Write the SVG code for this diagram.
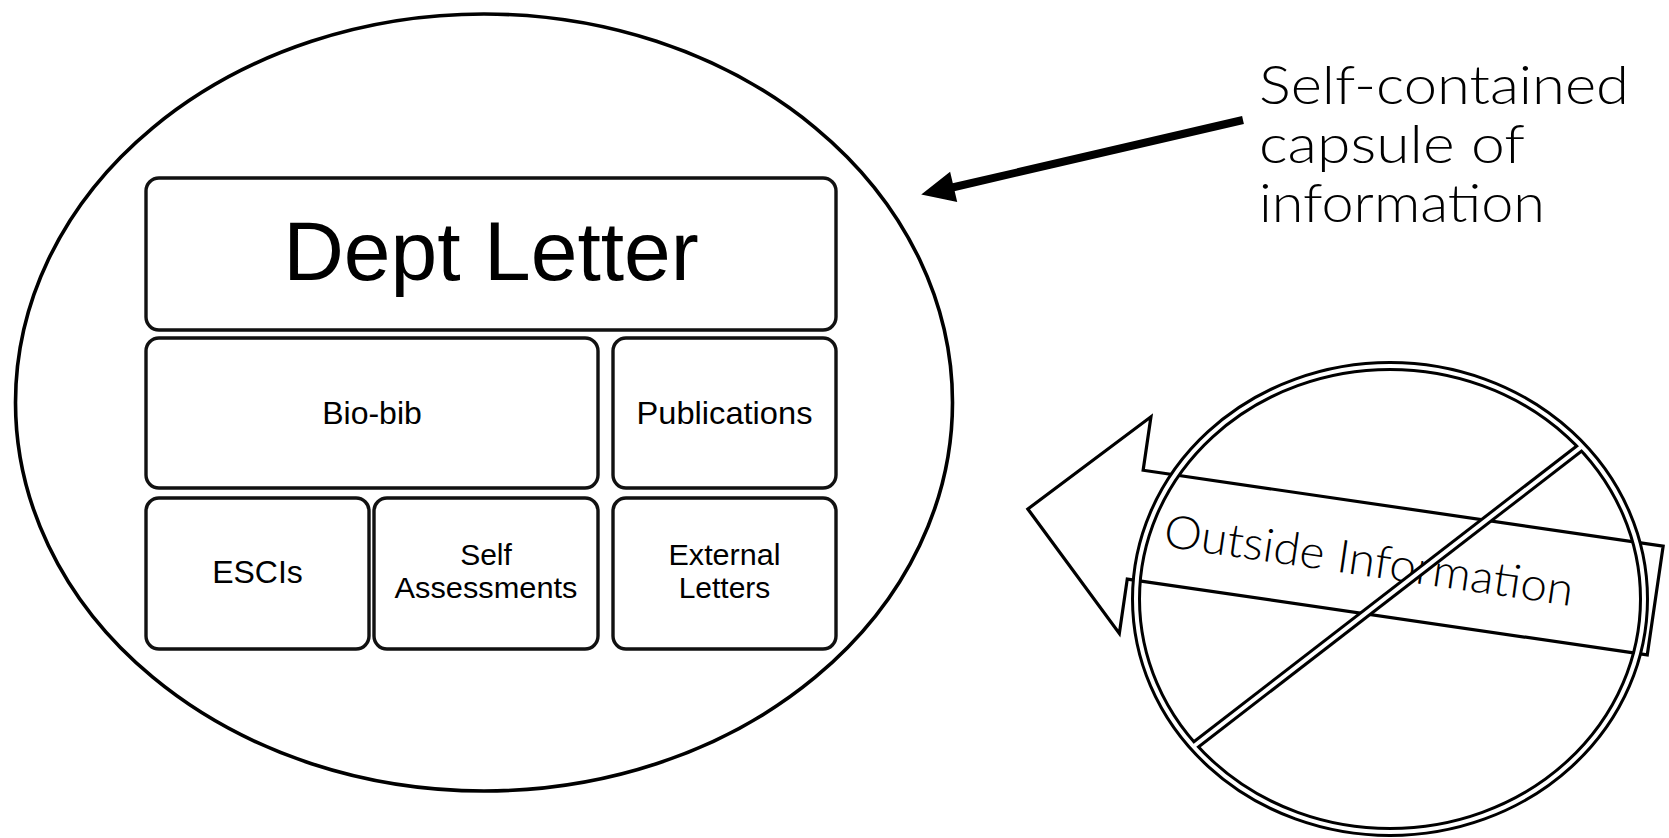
<svg xmlns="http://www.w3.org/2000/svg" width="1669" height="838" viewBox="0 0 1669 838">
<style>
.box{fill:#fff;stroke:#111;stroke-width:3.4}
.lbl{font-family:"Liberation Sans",Arial,sans-serif;font-size:32px;fill:#000;text-anchor:middle}
.sm{font-size:30px}
.big{font-size:84px}
.geo{font-family:Lato,"Noto Sans",sans-serif;font-weight:300;fill:#000}
.ringB{fill:none;stroke:#000;stroke-width:10}
.ringW{fill:none;stroke:#fff;stroke-width:4}
</style>
<defs>
<clipPath id="ringClip"><ellipse cx="1390" cy="599" rx="254" ry="233"/></clipPath>
</defs>
<rect width="1669" height="838" fill="#fff"/>

<g id="capsule">
<ellipse cx="484" cy="402.5" rx="468.5" ry="388.5" fill="none" stroke="#000" stroke-width="3.6"/>
</g>
<g id="dept-letter">
<rect class="box" x="146" y="178" width="690" height="152" rx="13"/>
<text class="lbl big" x="491" y="280">Dept Letter</text>
</g>
<g id="bio-bib">
<rect class="box" x="146" y="338" width="452" height="150" rx="13"/>
<text class="lbl" x="372" y="424">Bio-bib</text>
</g>
<g id="publications">
<rect class="box" x="613" y="338" width="223" height="150" rx="13"/>
<text class="lbl" x="724.5" y="424" textLength="176" lengthAdjust="spacingAndGlyphs">Publications</text>
</g>
<g id="escis">
<rect class="box" x="146" y="498" width="223" height="151" rx="13"/>
<text class="lbl" x="257.5" y="583">ESCIs</text>
</g>
<g id="self-assessments">
<rect class="box" x="374" y="498" width="224" height="151" rx="13"/>
<text class="lbl sm" x="486" y="565">Self</text>
<text class="lbl sm" x="486" y="598" textLength="183" lengthAdjust="spacingAndGlyphs">Assessments</text>
</g>
<g id="external-letters">
<rect class="box" x="613" y="498" width="223" height="151" rx="13"/>
<text class="lbl sm" x="724.5" y="565" textLength="112" lengthAdjust="spacingAndGlyphs">External</text>
<text class="lbl sm" x="724.5" y="598">Letters</text>
</g>

<g id="callout-text" class="geo" font-size="54">
<text x="1259" y="104" textLength="370" lengthAdjust="spacingAndGlyphs">Self-contained</text>
<text x="1259" y="163" textLength="266" lengthAdjust="spacingAndGlyphs">capsule of</text>
<text x="1259" y="222" textLength="286" lengthAdjust="spacingAndGlyphs">information</text>
</g>

<g id="connectors">
<line x1="1243" y1="120" x2="948" y2="188.5" stroke="#000" stroke-width="8"/>
<polygon points="923.5,194 949.5,173.6 955.9,200.8" fill="#000" stroke="#000" stroke-width="2" stroke-linejoin="miter"/>
</g>

<g id="outside-information" transform="translate(1027.7,510) rotate(8.3)">
<polygon points="0,-1 108.5,-110 108.5,-56 634,-56 634,54 108.5,54 108.5,109" fill="#fff" stroke="#000" stroke-width="3.2" stroke-linejoin="miter"/>
<text class="geo" x="138.5" y="16.5" font-size="46" textLength="413" lengthAdjust="spacingAndGlyphs">Outside Information</text>
</g>

<g id="no-sign">
<ellipse class="ringB" cx="1390" cy="599" rx="254" ry="233"/>
<line x1="1185" y1="753" x2="1598" y2="434" stroke="#000" stroke-width="10" clip-path="url(#ringClip)"/>
<ellipse class="ringW" cx="1390" cy="599" rx="254" ry="233"/>
<line x1="1185" y1="753" x2="1598" y2="434" stroke="#fff" stroke-width="4" clip-path="url(#ringClip)"/>
</g>
</svg>
